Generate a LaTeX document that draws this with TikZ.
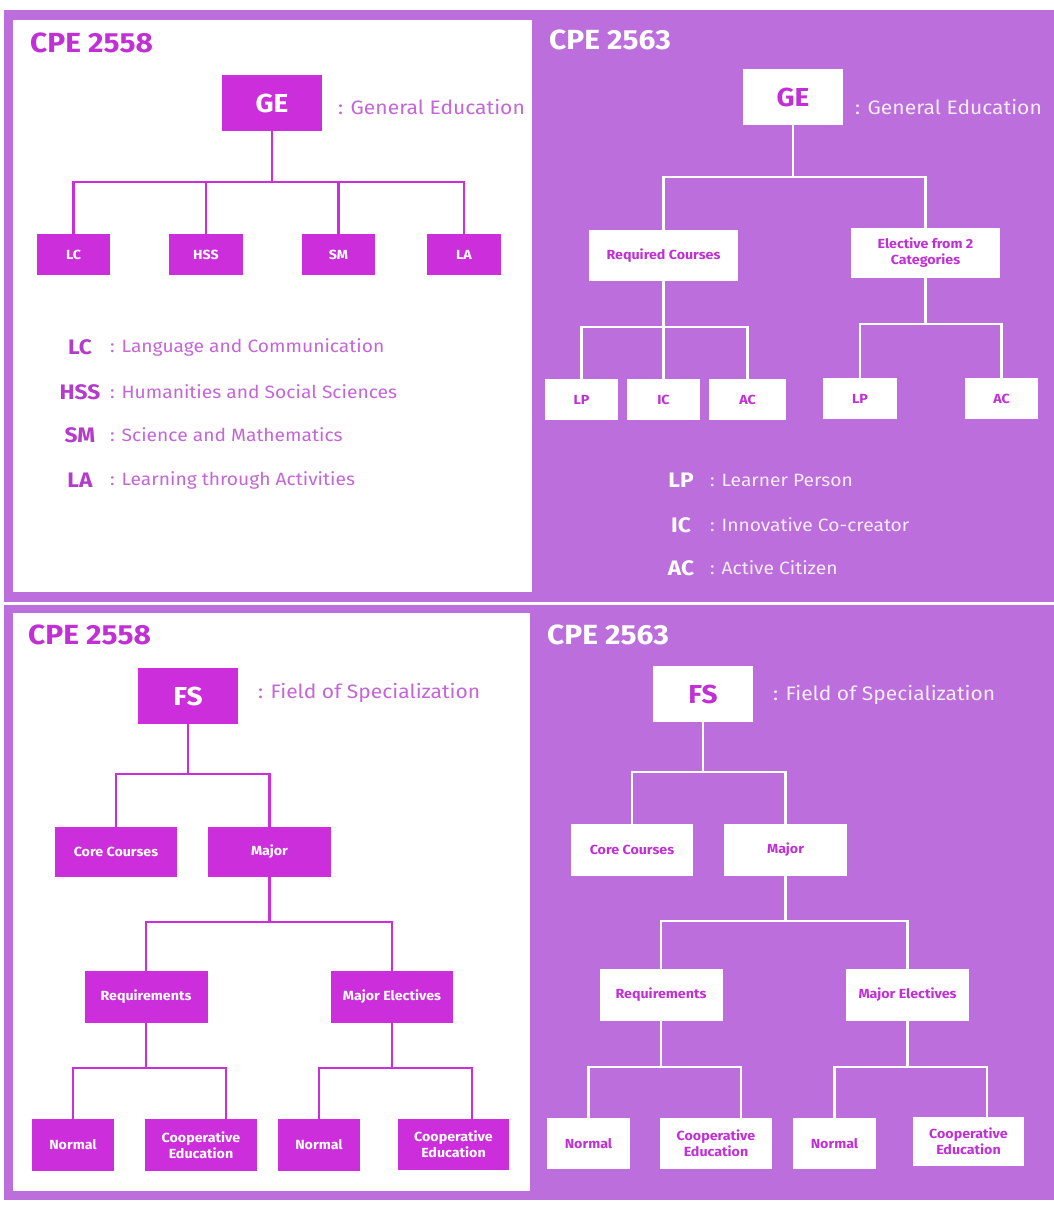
\documentclass[tikz,border=0pt]{standalone}
\usepackage{fontspec}
\setmainfont{Fira Sans}[FakeStretch=1.08]
\definecolor{mag}{HTML}{CC2EDC}
\definecolor{purp}{HTML}{BC6EDC}
\definecolor{magtext}{HTML}{C030D5}
\definecolor{desclt}{HTML}{C466D8}
\definecolor{abbr}{HTML}{B43CCB}
\definecolor{whtxt}{HTML}{F6ECF9}
\newcommand{\fsz}[1]{\fontsize{#1}{16}\selectfont}
\tikzset{
  mbox/.style={rectangle, fill=mag, text=white, inner sep=0pt, align=center, font=\bfseries\fsz{13.2}},
  wbox/.style={rectangle, fill=white, text=magtext, inner sep=0pt, align=center, font=\bfseries\fsz{13.2}},
  bigm/.style={mbox, font=\bfseries\fsz{26}, minimum width=100, minimum height=56},
  bigw/.style={wbox, font=\bfseries\fsz{26}, minimum width=100, minimum height=56},
  mline/.style={draw=mag, line width=2.8pt},
  wline/.style={draw=white, line width=2.8pt},
  titleM/.style={anchor=west, inner sep=0pt, text=magtext, font=\bfseries\fsz{27.7}},
  titleW/.style={anchor=west, inner sep=0pt, text=white, font=\bfseries\fsz{27.7}},
  descM/.style={anchor=west, inner sep=0pt, text=desclt, font=\fsz{19.5}},
  descW/.style={anchor=west, inner sep=0pt, text=whtxt, font=\fsz{19.5}},
  abM/.style={inner sep=0pt, text=abbr, font=\bfseries\fsz{21}},
  abW/.style={inner sep=0pt, text=white, font=\bfseries\fsz{21}},
  ldM/.style={anchor=west, inner sep=0pt, text=desclt, font=\fsz{17.8}},
  ldW/.style={anchor=west, inner sep=0pt, text=whtxt, font=\fsz{17.8}},
}
\begin{document}
\begin{tikzpicture}[x=1pt,y=-1pt]
\useasboundingbox (0,0) rectangle (1054,1210);
\fill[white] (0,0) rectangle (1054,1210);
% panels
\fill[purp] (4,10) rectangle (1054,602);
\fill[white] (13,20) rectangle (532,592);
\fill[purp] (4,605) rectangle (1054,1200);
\fill[white] (13,613) rectangle (530,1191);

% ================= top-left =================
\node[titleM] (t1) at (30,43) {CPE 2558};
\node[bigm] (ge1) at (272,103) {GE};
\node[descM] (ge1d) at (338,107) {: General Education};
\node[mbox, minimum width=73, minimum height=41] (lc) at (73.5,254.5) {LC};
\node[mbox, minimum width=74, minimum height=41] (hss) at (206,254.5) {HSS};
\node[mbox, minimum width=73, minimum height=41] (sm) at (338.5,254.5) {SM};
\node[mbox, minimum width=74, minimum height=41] (la) at (464,254.5) {LA};
\coordinate (b1) at (272,182);
\draw[mline] (ge1) -- (b1);
\draw[mline] (lc.north) |- (b1) -| (la.north);
\draw[mline] (hss) -- (hss |- b1);
\draw[mline] (sm) -- (sm |- b1);
\node[abM] (k1) at (80,347) {LC};
\node[ldM] (k1d) at (110,347) {: Language and Communication};
\node[abM] (k2) at (80,392) {HSS};
\node[ldM] (k2d) at (110,392) {: Humanities and Social Sciences};
\node[abM] (k3) at (80,435) {SM};
\node[ldM] (k3d) at (110,435) {: Science and Mathematics};
\node[abM] (k4) at (80,480) {LA};
\node[ldM] (k4d) at (110,480) {: Learning through Activities};

% ================= top-right =================
\node[titleW] (t2) at (549,40) {CPE 2563};
\node[bigw] (ge2) at (793,97) {GE};
\node[descW] (ge2d) at (855,107) {: General Education};
\node[wbox, minimum width=149, minimum height=51] (req) at (663.5,255.5) {Required Courses};
\node[wbox, minimum width=149, minimum height=50] (elec) at (925.5,253) {Elective from 2\\Categories};
\coordinate (b2) at (793,177);
\draw[wline] (ge2) -- (b2);
\draw[wline] (req.north) |- (b2) -| (elec.north);
\node[wbox, minimum width=73, minimum height=41] (lp1) at (581.5,399.5) {LP};
\node[wbox, minimum width=73, minimum height=41] (ic1) at (663.5,399.5) {IC};
\node[wbox, minimum width=77, minimum height=41] (ac1) at (747.5,399.5) {AC};
\coordinate (b3) at (663.5,327);
\draw[wline] (req) -- (ic1);
\draw[wline] (lp1.north) |- (b3) -| (ac1.north);
\node[wbox, minimum width=74, minimum height=41] (lp2) at (860,398.5) {LP};
\node[wbox, minimum width=73, minimum height=41] (ac2) at (1001.5,398.5) {AC};
\coordinate (b4) at (925.5,324);
\draw[wline] (elec) -- (b4);
\draw[wline] (lp2.north) |- (b4) -| (ac2.north);
\node[abW] (k5) at (681,480) {LP};
\node[ldW] (k5d) at (710,480) {: Learner Person};
\node[abW] (k6) at (681,525) {IC};
\node[ldW] (k6d) at (710,525) {: Innovative Co-creator};
\node[abW] (k7) at (681,568) {AC};
\node[ldW] (k7d) at (710,568) {: Active Citizen};

% ================= bottom-left =================
\node[titleM] (t3) at (28,635) {CPE 2558};
\node[bigm] (fs1) at (188,696) {FS};
\node[descM] (fs1d) at (258,693) {: Field of Specialization};
\node[mbox, minimum width=122, minimum height=50] (core1) at (116,852) {Core Courses};
\node[mbox, minimum width=123, minimum height=50] (maj1) at (269.5,852) {Major};
\coordinate (b5) at (188,774);
\draw[mline] (fs1) -- (b5);
\draw[mline] (core1.north) |- (b5) -| (maj1.north);
\node[mbox, minimum width=123, minimum height=52] (rq1) at (146,997) {Requirements};
\node[mbox, minimum width=122, minimum height=52] (me1) at (392,997) {Major Electives};
\coordinate (b6) at (269.5,922);
\draw[mline] (maj1) -- (b6);
\draw[mline] (rq1.north) |- (b6) -| (me1.north);
\node[mbox, minimum width=82, minimum height=52] (n1) at (73,1145) {Normal};
\node[mbox, minimum width=112, minimum height=52] (c1) at (201,1145) {Cooperative\\Education};
\coordinate (b7) at (146,1068);
\coordinate (v1) at (226,1068);
\draw[mline] (rq1) -- (b7);
\draw[mline] (n1.north) |- (b7) -- (v1) -- (v1 |- c1.north);
\node[mbox, minimum width=82, minimum height=52] (n2) at (319,1145) {Normal};
\node[mbox, minimum width=111, minimum height=51] (c2) at (453.5,1144.5) {Cooperative\\Education};
\coordinate (b8) at (392,1068);
\coordinate (v2) at (472,1068);
\draw[mline] (me1) -- (b8);
\draw[mline] (n2.north) |- (b8) -- (v2) -- (v2 |- c2.north);

% ================= bottom-right =================
\node[titleW] (t4) at (547,635) {CPE 2563};
\node[bigw] (fs2) at (703,694) {FS};
\node[descW] (fs2d) at (773,695) {: Field of Specialization};
\node[wbox, minimum width=122, minimum height=52] (core2) at (632,850) {Core Courses};
\node[wbox, minimum width=123, minimum height=52] (maj2) at (785.5,850) {Major};
\coordinate (b9) at (703,772);
\draw[wline] (fs2) -- (b9);
\draw[wline] (core2.north) |- (b9) -| (maj2.north);
\node[wbox, minimum width=123, minimum height=52] (rq2) at (661,995) {Requirements};
\node[wbox, minimum width=123, minimum height=52] (me2) at (907.5,995) {Major Electives};
\coordinate (b10) at (785.5,921);
\draw[wline] (maj2) -- (b10);
\draw[wline] (rq2.north) |- (b10) -| (me2.north);
\node[wbox, minimum width=83, minimum height=51] (n3) at (588.5,1143.5) {Normal};
\node[wbox, minimum width=112, minimum height=51] (c3) at (716,1143.5) {Cooperative\\Education};
\coordinate (b11) at (661,1067);
\coordinate (v3) at (741,1067);
\draw[wline] (rq2) -- (b11);
\draw[wline] (n3.north) |- (b11) -- (v3) -- (v3 |- c3.north);
\node[wbox, minimum width=83, minimum height=51] (n4) at (834.5,1143.5) {Normal};
\node[wbox, minimum width=111, minimum height=49] (c4) at (968.5,1141.5) {Cooperative\\Education};
\coordinate (b12) at (907.5,1067);
\coordinate (v4) at (987,1067);
\draw[wline] (me2) -- (b12);
\draw[wline] (n4.north) |- (b12) -- (v4) -- (v4 |- c4.north);
\end{tikzpicture}
\end{document}
